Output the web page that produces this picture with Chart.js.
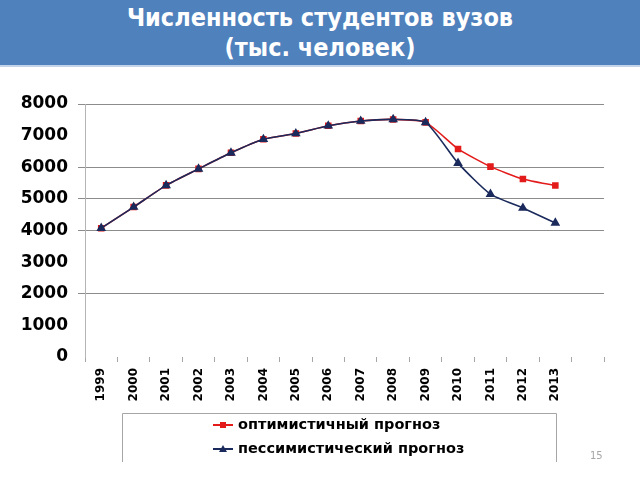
<!DOCTYPE html>
<html>
<head>
<meta charset="utf-8">
<script src="https://cdn.jsdelivr.net/npm/chart.js@4/dist/chart.umd.min.js"></script>
<style>
  html, body { margin: 0; padding: 0; background: #ffffff; }
  #wrap { position: relative; width: 640px; height: 480px; overflow: hidden; }
  #chart { position: absolute; left: 0; top: 0; }
  #header { position: absolute; left: 0; top: 0; width: 640px; height: 65px; background: #4F81BD; border-bottom: 2px solid #C3D4EA; z-index: 2; }
  .tline { position: absolute; left: 0; width: 640px; text-align: center; color: #ffffff; font-family: "DejaVu Sans Condensed", "DejaVu Sans", sans-serif; font-stretch: condensed; font-weight: bold; font-size: 25px; line-height: 28px; white-space: nowrap; }
  #page { position: absolute; left: 590px; top: 450px; font-family: "DejaVu Sans", sans-serif; font-size: 10px; color: #a6a6a6; }
</style>
</head>
<body>
<div id="wrap">
  <canvas id="chart" width="640" height="480"></canvas>
  <div id="header">
    <div class="tline" style="top:4px;">Численность студентов вузов</div>
    <div class="tline" style="top:34px;">(тыс. человек)</div>
  </div>
  <div id="page">15</div>
</div>
<script>
// ---- data ----
const years = ['1999','2000','2001','2002','2003','2004','2005','2006','2007','2008','2009','2010','2011','2012','2013'];
const optimistic  = [4073, 4741, 5427, 5948, 6456, 6884, 7065, 7310, 7461, 7513, 7419, 6580, 6020, 5630, 5420];
const pessimistic = [4073, 4741, 5427, 5948, 6456, 6884, 7065, 7310, 7461, 7513, 7419, 6130, 5150, 4710, 4240];
const seriesNames = ['оптимистичный прогноз', 'пессимистический прогноз'];
const yTicks = [0, 1000, 2000, 3000, 4000, 5000, 6000, 7000, 8000];
const visibleGrid = [2000, 4000, 5000, 6000, 8000];

const RED = '#E31B1B';
const NAVY = '#1B2A5C';

// one empty trailing slot: the reference's axis runs one category past 2013
const categories = years.concat(['']);

const legendPlugin = {
  id: 'boxLegend',
  afterDraw(chart) {
    const ctx = chart.ctx;
    ctx.save();
    ctx.strokeStyle = '#A6A6A6';
    ctx.lineWidth = 1;
    ctx.beginPath();
    ctx.moveTo(122.5, 462);
    ctx.lineTo(122.5, 413.5);
    ctx.lineTo(556.5, 413.5);
    ctx.lineTo(556.5, 462);
    ctx.stroke();
    const rows = [425, 449];
    chart.data.datasets.forEach((ds, i) => {
      const y = rows[i];
      ctx.strokeStyle = ds.borderColor;
      ctx.lineWidth = 2;
      ctx.beginPath();
      ctx.moveTo(213, y);
      ctx.lineTo(233, y);
      ctx.stroke();
      ctx.fillStyle = ds.pointBackgroundColor;
      if (ds.pointStyle === 'rect') {
        ctx.fillRect(220, y - 3, 6, 6);
      } else {
        ctx.beginPath();
        ctx.moveTo(223, y - 4);
        ctx.lineTo(227, y + 3);
        ctx.lineTo(219, y + 3);
        ctx.closePath();
        ctx.fill();
      }
      ctx.fillStyle = '#000000';
      ctx.font = 'bold 14.5px "DejaVu Sans"';
      ctx.textBaseline = 'middle';
      ctx.textAlign = 'left';
      ctx.fillText(ds.label, 238, y);
    });
    ctx.restore();
  }
};

new Chart(document.getElementById('chart'), {
  type: 'line',
  data: {
    labels: categories,
    datasets: [
      {
        label: seriesNames[0],
        data: optimistic,
        borderColor: RED,
        backgroundColor: RED,
        pointBackgroundColor: RED,
        pointBorderColor: RED,
        pointStyle: 'rect',
        pointRadius: 3.5,
        borderWidth: 1.6,
        tension: 0.2,
        order: 1
      },
      {
        label: seriesNames[1],
        data: pessimistic,
        borderColor: NAVY,
        backgroundColor: NAVY,
        pointBackgroundColor: NAVY,
        pointBorderColor: NAVY,
        pointStyle: 'triangle',
        pointRadius: 4,
        borderWidth: 1.6,
        tension: 0.2,
        order: 0
      }
    ]
  },
  options: {
    responsive: false,
    animation: false,
    devicePixelRatio: 1,
    layout: { padding: { left: 0, top: 104, right: 36, bottom: 0 } },
    plugins: {
      legend: { display: false },
      title: { display: false },
      tooltip: { enabled: false }
    },
    scales: {
      x: {
        type: 'category',
        offset: true,
        grid: {
          offset: true,
          drawOnChartArea: false,
          drawTicks: true,
          tickLength: 5,
          color: '#A6A6A6'
        },
        border: { display: false },
        ticks: {
          autoSkip: false,
          minRotation: 90,
          maxRotation: 90,
          padding: 6,
          color: '#000000',
          font: { family: 'DejaVu Sans', weight: 'bold', size: 12 }
        },
        afterFit(scale) { scale.height = 123; }
      },
      y: {
        min: 0,
        max: 8000,
        afterBuildTicks(scale) { scale.ticks = yTicks.map(v => ({ value: v })); },
        grid: {
          color: (c) => visibleGrid.includes(c.tick && c.tick.value) ? '#8C8C8C' : 'rgba(0,0,0,0)',
          lineWidth: 1,
          drawTicks: true,
          tickLength: 7
        },
        border: { display: true, color: '#B4B4B4', width: 1 },
        ticks: {
          padding: 10,
          color: '#000000',
          font: { family: 'DejaVu Sans', weight: 'bold', size: 17 },
          callback: (v) => String(v)
        },
        afterFit(scale) { scale.width = 85; }
      }
    }
  },
  plugins: [legendPlugin]
});
</script>
</body>
</html>
